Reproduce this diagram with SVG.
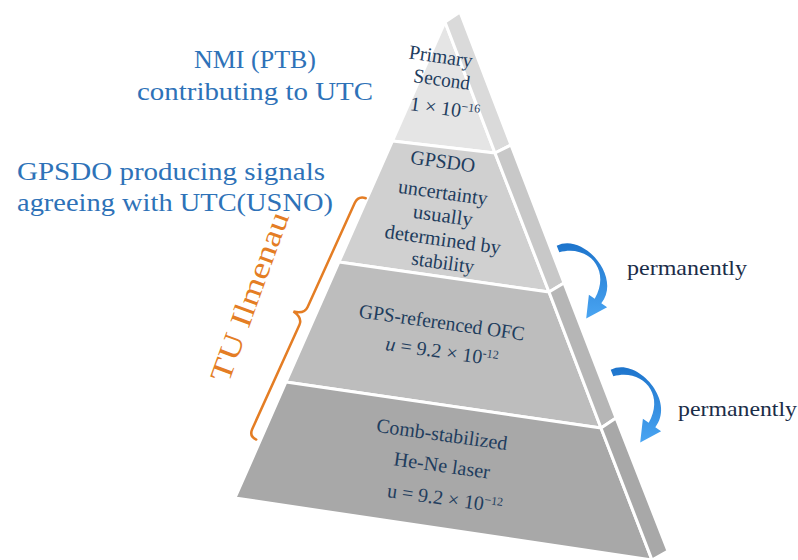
<svg xmlns="http://www.w3.org/2000/svg" width="798" height="560" viewBox="0 0 798 560">
<defs>
<style>
.face{stroke:#ffffff;stroke-width:3;stroke-linejoin:round}
.lbl{font-family:"Liberation Serif",serif;font-size:26px;fill:#2e72b8}
.tu{font-family:"Liberation Serif",serif;font-size:30px;fill:#e47d24}
.pt{font-family:"Liberation Serif",serif;font-size:20px;fill:#1f3d5e;text-anchor:middle}
.perm{font-family:"Liberation Serif",serif;font-size:21px;fill:#1b2d48}
.sup{font-size:12px}
.arrow{fill:url(#ag)}
</style>
<linearGradient id="ag" x1="0" y1="0" x2="0" y2="1">
<stop offset="0" stop-color="#1d74cc"/>
<stop offset="1" stop-color="#4aa5f2"/>
</linearGradient>
</defs>
<rect width="798" height="560" fill="#ffffff"/>

<g id="layer-primary">
<polygon class="face" points="445,22 495,153 392.5,141" fill="#e5e5e5"/>
<polygon class="face" points="445,22 460,12 511,145 495,153" fill="#dadada"/>
<text class="pt" transform="translate(440,63) rotate(8)" textLength="64" lengthAdjust="spacingAndGlyphs">Primary</text>
<text class="pt" transform="translate(441,86) rotate(8)" textLength="57" lengthAdjust="spacingAndGlyphs">Second</text>
<text class="pt" transform="translate(444,115) rotate(8)">1 × 10<tspan class="sup" dy="-7">−16</tspan></text>
</g>

<g id="layer-gpsdo">
<polygon class="face" points="392.5,141 495,153 549,292 339,262" fill="#d0d0d0"/>
<polygon class="face" points="495,153 511,145 564,283 549,292" fill="#c8c8c8"/>
<text class="pt" transform="translate(442,168) rotate(8)" textLength="65" lengthAdjust="spacingAndGlyphs">GPSDO</text>
<text class="pt" transform="translate(442,199) rotate(8)" textLength="90" lengthAdjust="spacingAndGlyphs">uncertainty</text>
<text class="pt" transform="translate(442,222) rotate(8)" textLength="60" lengthAdjust="spacingAndGlyphs">usually</text>
<text class="pt" transform="translate(442,246) rotate(8)" textLength="117" lengthAdjust="spacingAndGlyphs">determined by</text>
<text class="pt" transform="translate(442,269) rotate(8)" textLength="63" lengthAdjust="spacingAndGlyphs">stability</text>
</g>

<g id="layer-ofc">
<polygon class="face" points="339,262 549,292 601,428 286,382" fill="#bdbdbd"/>
<polygon class="face" points="549,292 564,283 616,418 601,428" fill="#b6b6b6"/>
<text class="pt" transform="translate(441,329) rotate(8)" textLength="167" lengthAdjust="spacingAndGlyphs">GPS-referenced OFC</text>
<text class="pt" transform="translate(441,358) rotate(8)"><tspan font-style="italic">u</tspan> = 9.2 × 10<tspan class="sup" dy="-7">-12</tspan></text>
</g>

<g id="layer-comb">
<polygon class="face" points="286,382 601,428 652,560 235,498" fill="#a8a8a8"/>
<polygon class="face" points="601,428 616,418 668,551 652,560" fill="#a8a8a8"/>
<text class="pt" transform="translate(441,441) rotate(8)" textLength="132" lengthAdjust="spacingAndGlyphs">Comb-stabilized</text>
<text class="pt" transform="translate(441,472) rotate(8)" textLength="97" lengthAdjust="spacingAndGlyphs">He-Ne laser</text>
<text class="pt" transform="translate(444,505) rotate(8)">u = 9.2 × 10<tspan class="sup" dy="-7">−12</tspan></text>
</g>

<g id="label-nmi">
<text class="lbl" x="255" y="68" text-anchor="middle">NMI (PTB)</text>
<text class="lbl" x="255" y="100" text-anchor="middle" textLength="236" lengthAdjust="spacingAndGlyphs">contributing to UTC</text>
</g>

<g id="label-gpsdo">
<text class="lbl" x="17" y="180" textLength="308" lengthAdjust="spacingAndGlyphs">GPSDO producing signals</text>
<text class="lbl" x="17" y="211" textLength="316" lengthAdjust="spacingAndGlyphs">agreeing with UTC(USNO)</text>
</g>

<g id="label-tu">
<path d="M8,-133 Q0,-132 0,-124 L0,-10 Q0,-2 -11,0 Q0,2 0,10 L0,124 Q0,132 8,132" fill="none" stroke="#e47d24" stroke-width="2.5" stroke-linecap="round" transform="translate(303.5,316) rotate(24.4)"/>
<text class="tu" transform="translate(259,300) rotate(-70)" text-anchor="middle" textLength="178" lengthAdjust="spacingAndGlyphs">TU Ilmenau</text>
</g>

<g id="connectors">
<path class="arrow" d="M556.7,245.8 C582.5,232 622.4,276.7 601.3,303.2 L607.1,307.2 L586.2,318.4 L588.9,294.8 L594.7,298.8 C611.6,269.3 587.5,244 559.3,252.2 Z"/>
<path class="arrow" transform="translate(54,124)" d="M556.7,245.8 C582.5,232 622.4,276.7 601.3,303.2 L607.1,307.2 L586.2,318.4 L588.9,294.8 L594.7,298.8 C611.6,269.3 587.5,244 559.3,252.2 Z"/>
</g>

<g id="label-perm1">
<text class="perm" x="627" y="275" textLength="120" lengthAdjust="spacingAndGlyphs">permanently</text>
</g>
<g id="label-perm2">
<text class="perm" x="678" y="416" textLength="119" lengthAdjust="spacingAndGlyphs">permanently</text>
</g>
</svg>
